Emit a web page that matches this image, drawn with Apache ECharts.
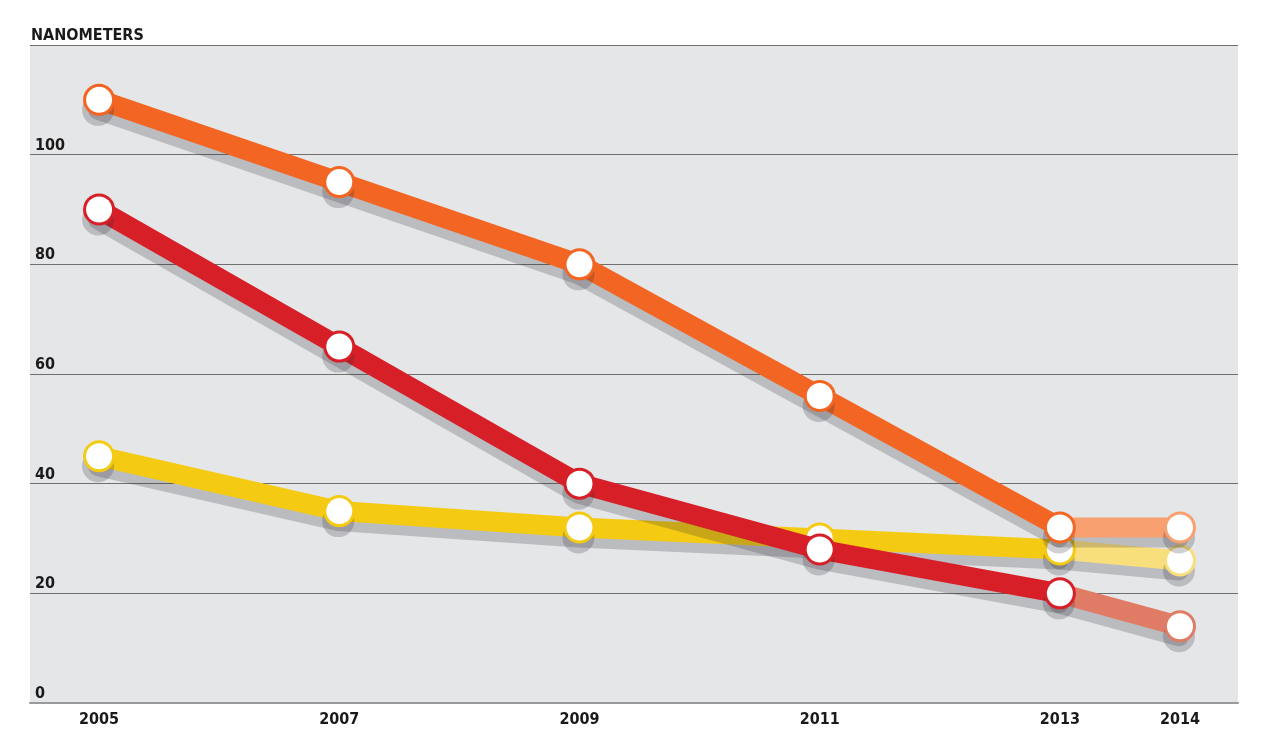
<!DOCTYPE html>
<html><head><meta charset="utf-8">
<script src="https://cdn.jsdelivr.net/npm/echarts@6/dist/echarts.min.js"></script>
<style>html,body{margin:0;padding:0;background:#fff}#c{width:1280px;height:732px}</style>
</head><body><div id="c"></div>
<script>
const years = [2005, 2007, 2009, 2011, 2013, 2014];
const orangeVals = [110, 95, 80, 56, 32, 32];
const redVals = [90, 65, 40, 28, 20, 14];
const yellowVals = [45, 35, 32, 30, 28, 26];
const yTicks = [0, 20, 40, 60, 80, 100, 120];
const yAxisTitle = 'NANOMETERS';

const FONT = "'Liberation Sans Narrow','DejaVu Sans Condensed',sans-serif";
const SH = 'rgba(40,40,50,0.22)';

function mainPart(vals){ return years.slice(0,5).map((y,i)=>[y, vals[i]]); }
function fadedPart(vals){
  return [{value:[years[4], vals[4]], symbol:'none'}, {value:[years[5], vals[5]]}];
}
function mk(name, data, color, z){
  return [{
    name, type:'line', data, z, symbol:'circle', symbolSize:32,
    lineStyle:{color, width:20, cap:'round', join:'round', shadowColor:SH, shadowBlur:0, shadowOffsetX:-1, shadowOffsetY:10},
    itemStyle:{color:color, borderWidth:0, shadowColor:SH, shadowBlur:0, shadowOffsetX:-1, shadowOffsetY:10},
    emphasis:{disabled:true}, animation:false, silent:true
  },{
    name:name+'Dot', type:'line', data, z:z+0.5, symbol:'circle', symbolSize:26,
    lineStyle:{width:0, opacity:0},
    itemStyle:{color:'#fff', borderWidth:0},
    emphasis:{disabled:true}, animation:false, silent:true
  }];
}

const chart = echarts.init(document.getElementById('c'));
chart.setOption({
  animation:false,
  grid:{left:30, right:42, top:45, bottom:29, show:true, backgroundColor:'#e5e6e8', borderWidth:0},
  xAxis:{
    type:'value', min:2004.425, max:2014.483,
    splitLine:{show:false},
    axisLine:{show:true, lineStyle:{color:'#9a9a9a', width:2}},
    axisTick:{show:false},
    axisLabel:{customValues:years, formatter:v=>String(v), color:'#1a1a1a', fontFamily:FONT, fontWeight:'bold', fontSize:16, margin:9}
  },
  yAxis:{
    type:'value', min:0, max:120, interval:20,
    axisLine:{show:false}, axisTick:{show:false},
    splitLine:{show:true, lineStyle:{color:'#6f6f6f', width:1}},
    axisLabel:{
      inside:true, margin:5, verticalAlign:'bottom', align:'left', padding:[0,0,1,0],
      color:'#1a1a1a', fontFamily:FONT, fontWeight:'bold', fontSize:16,
      formatter:v=> v===yTicks[yTicks.length-1] ? '{t|'+yAxisTitle+'}' : String(v),
      rich:{t:{fontFamily:FONT, fontWeight:'bold', fontSize:16, color:'#1a1a1a', padding:[0,0,0,-4]}}
    }
  },
  series:[].concat(
    mk('yellowFaded', fadedPart(yellowVals), '#f9de7c', 1),
    mk('yellow', mainPart(yellowVals), '#f4cb12', 2),
    mk('redFaded', fadedPart(redVals), '#e07c65', 3),
    mk('red', mainPart(redVals), '#d71f27', 4),
    mk('orangeFaded', fadedPart(orangeVals), '#f8a070', 5),
    mk('orange', mainPart(orangeVals), '#f26522', 6)
  )
});
</script></body></html>
